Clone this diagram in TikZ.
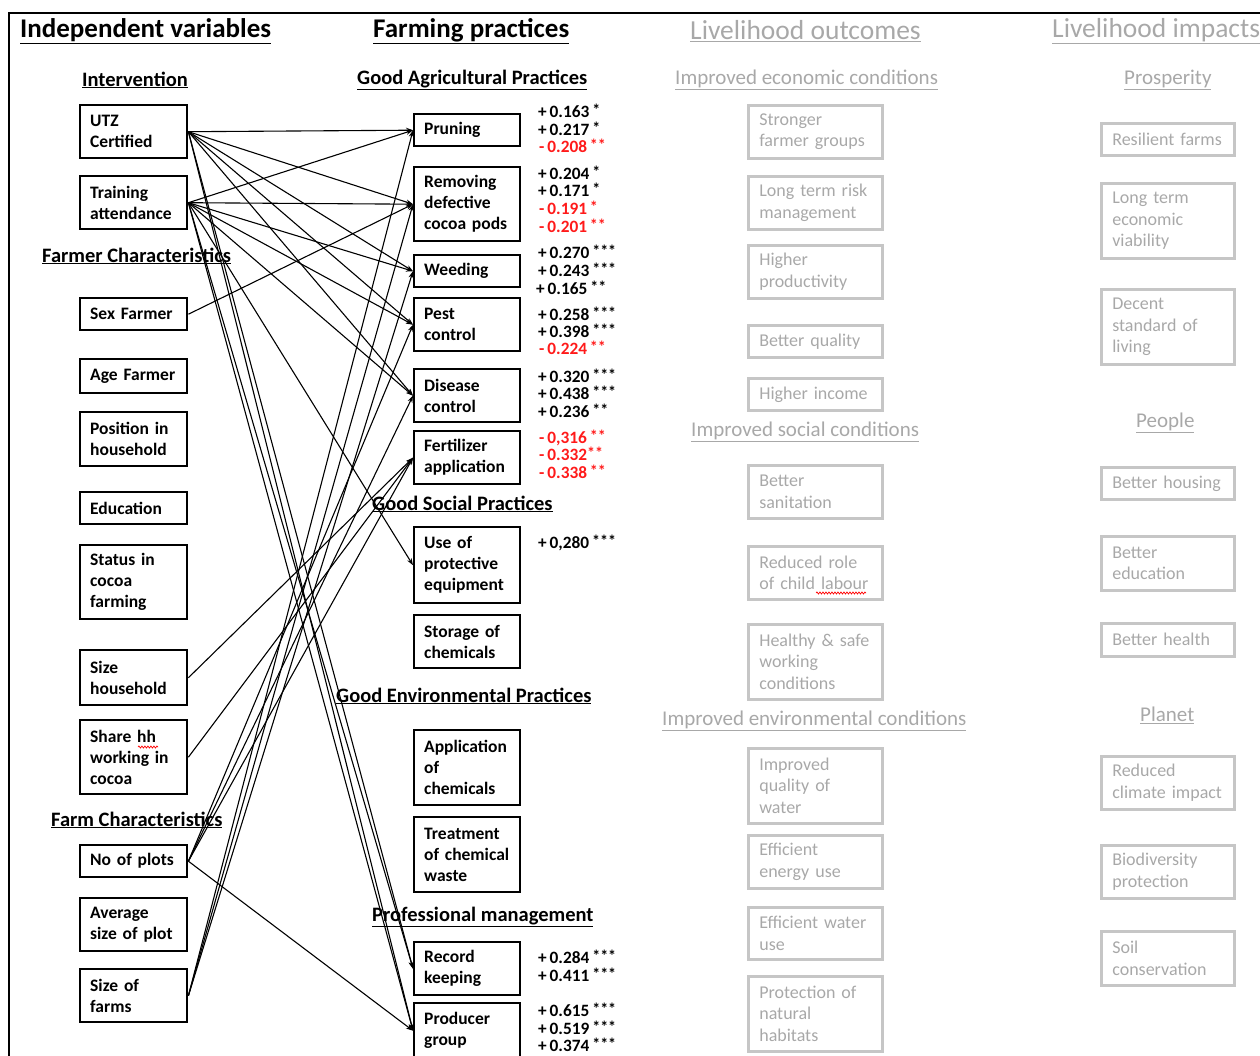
\documentclass[tikz,border=0pt]{standalone}
\usepackage{fontspec}
\setmainfont{Carlito}
\usetikzlibrary{arrows.meta,decorations.pathmorphing}
\definecolor{fade}{HTML}{A8A8A8}
\definecolor{fadeline}{HTML}{C6C6C6}
\definecolor{coefred}{HTML}{FF1A1A}
% significance stars
\newcommand\sig[1]{\,\raisebox{1.5pt}{\fontsize{16}{16}\selectfont #1}}

\begin{document}
\begin{tikzpicture}[x=1pt,y=-1pt,
  bbox/.style={draw=black, line width=2.4pt, inner xsep=10pt, inner ysep=0pt,
    anchor=north west, align=left, font=\fontsize{17.5}{21}\selectfont\bfseries},
  gbox/.style={draw=fadeline, line width=2.6pt, inner xsep=11pt, inner ysep=0pt,
    anchor=north west, align=left, text=fade, font=\fontsize{18}{21.5}\selectfont},
  mainhead/.style={anchor=west, inner sep=0pt, font=\fontsize{27}{30}\selectfont\bfseries},
  subhead/.style={anchor=west, inner sep=0pt, font=\fontsize{20.5}{22}\selectfont\bfseries},
  gmainhead/.style={anchor=west, inner sep=0pt, text=fade, font=\fontsize{27.5}{30}\selectfont},
  gsubhead/.style={anchor=west, inner sep=0pt, text=fade, font=\fontsize{21}{22}\selectfont},
  coef/.style={anchor=west, inner sep=0pt, font=\fontsize{17.3}{17}\selectfont\bfseries},
  neg/.style={coef, text=coefred},
  link/.style={draw=black, line width=1.1pt, -{Stealth[length=7pt,width=5pt]}},
  wavy/.style={draw=red, line width=0.7pt, decorate,
    decoration={snake, amplitude=1pt, segment length=3pt}}
]
\useasboundingbox (0,0) rectangle (1260,1055);

% outer frame (only its top and left sides fall inside the page)
\draw[line width=2pt] (9,1056) -- (9,13) -- (1261,13);

% ---------- column headings ----------
\node[mainhead] (hIndep) at (20,31) {\underline{Independent variables}};
\node[mainhead] (hFarm) at (373,31) {\underline{Farming practices}};
\node[gmainhead] (hOut) at (690,31) {\underline{Livelihood outcomes}};
\node[gmainhead] (hImp) at (1052,31) {\underline{Livelihood impacts}};

% ---------- group headings ----------
\node[subhead] (gInt) at (82,80) {\underline{Intervention}};
\node[subhead] (gFarmer) at (42,256) {\underline{Farmer Characteristics}};
\node[subhead] (gFarmC) at (51,820) {\underline{Farm Characteristics}};
\node[subhead] (gGAP) at (357,80) {\underline{Good Agricultural Practices}};
\node[subhead] (gGSP) at (372,504) {\underline{Good Social Practices}};
\node[subhead] (gGEP) at (336,696) {\underline{Good Environmental Practices}};
\node[subhead] (gPM) at (372,917) {\underline{Professional management}};
\node[gsubhead] (gEco) at (675,80) {\underline{Improved economic conditions}};
\node[gsubhead] (gSoc) at (691,432) {\underline{Improved social conditions}};
\node[gsubhead] (gEnv) at (662,721) {\underline{Improved environmental conditions}};
\node[gsubhead] (gPros) at (1124,80) {\underline{Prosperity}};
\node[gsubhead] (gPeop) at (1136,423) {\underline{People}};
\node[gsubhead] (gPlan) at (1140,715) {\underline{Planet}};

% ---------- independent variables ----------
\node[bbox, text width=87pt, minimum height=53pt] (utz)  at (79,104) {UTZ\\Certified};
\node[bbox, text width=87pt, minimum height=53pt] (trai) at (79,175) {Training\\attendance};
\node[bbox, text width=87pt, minimum height=32pt] (sexf) at (79,297) {Sex Farmer};
\node[bbox, text width=87pt, minimum height=34pt] (agef) at (79,358) {Age Farmer};
\node[bbox, text width=87pt, minimum height=54pt] (posh) at (79,411) {Position in\\household};
\node[bbox, text width=87pt, minimum height=32pt] (educ) at (79,491) {Education};
\node[bbox, text width=87pt, minimum height=74pt] (stat) at (79,544) {Status in\\cocoa\\farming};
\node[bbox, text width=87pt, minimum height=55pt] (sizh) at (79,649) {Size\\household};
\node[bbox, text width=87pt, minimum height=74pt] (shar) at (79,719) {Share hh\\working in\\cocoa};
\node[bbox, text width=87pt, minimum height=32pt] (nopl) at (79,844) {No of plots};
\node[bbox, text width=87pt, minimum height=53pt] (avgp) at (79,897) {Average\\size of plot};
\node[bbox, text width=87pt, minimum height=53pt] (sizf) at (79,968) {Size of\\farms};

% spell-check mark under "hh"
\draw[wavy] (138,747) -- (158,747);

% ---------- farming practices ----------
\node[bbox, text width=86pt, minimum height=32pt] (prun) at (413,113) {Pruning};
\node[bbox, text width=86pt, minimum height=74pt] (remo) at (413,166) {Removing\\defective\\cocoa pods};
\node[bbox, text width=86pt, minimum height=32pt] (weed) at (413,254) {Weeding};
\node[bbox, text width=86pt, minimum height=53pt] (pest) at (413,297) {Pest\\control};
\node[bbox, text width=86pt, minimum height=53pt] (dise) at (413,368) {Disease\\control};
\node[bbox, text width=86pt, minimum height=53pt] (fert) at (413,430) {Fertilizer\\application};
\node[bbox, text width=86pt, minimum height=76pt] (useq) at (413,526) {Use of\\protective\\equipment};
\node[bbox, text width=86pt, minimum height=53pt] (stor) at (413,614) {Storage of\\chemicals};
\node[bbox, text width=86pt, minimum height=75pt] (appl) at (413,729) {Application\\of\\chemicals};
\node[bbox, text width=86pt, minimum height=75pt] (trea) at (413,816) {Treatment\\of chemical\\waste};
\node[bbox, text width=86pt, minimum height=53pt] (reco) at (413,941) {Record\\keeping};
\node[bbox, text width=86pt, minimum height=55pt] (prod) at (413,1002) {Producer\\group};

% ---------- coefficients ----------
\node[coef] (c01) at (538,111) {+\,0.163\sig{*}};
\node[coef] (c02) at (538,129) {+\,0.217\sig{*}};
\node[neg]  (c03) at (539,146) {-\,0.208\sig{**}};
\node[coef] (c04) at (538,173) {+\,0.204\sig{*}};
\node[coef] (c05) at (538,190) {+\,0.171\sig{*}};
\node[neg]  (c06) at (539,208) {-\,0.191\sig{*}};
\node[neg]  (c07) at (539,226) {-\,0.201\sig{**}};
\node[coef] (c08) at (538,252) {+\,0.270\sig{***}};
\node[coef] (c09) at (538,270) {+\,0.243\sig{***}};
\node[coef] (c10) at (536,288) {+\,0.165\sig{**}};
\node[coef] (c11) at (538,314) {+\,0.258\sig{***}};
\node[coef] (c12) at (538,331) {+\,0.398\sig{***}};
\node[neg]  (c13) at (539,348) {-\,0.224\sig{**}};
\node[coef] (c14) at (538,376) {+\,0.320\sig{***}};
\node[coef] (c15) at (538,393) {+\,0.438\sig{***}};
\node[coef] (c16) at (538,411) {+\,0.236\sig{**}};
\node[neg]  (c17) at (539,438) {-\,0,316\sig{**}};
\node[neg]  (c18) at (539,454) {-\,0.332\raisebox{1.5pt}{\fontsize{16}{16}\selectfont **}};
\node[neg]  (c19) at (539,472) {-\,0.338\sig{**}};
\node[coef] (c20) at (538,543) {+\,0,280\sig{***}};
\node[coef] (c21) at (538,957) {+\,0.284\sig{***}};
\node[coef] (c22) at (538,975) {+\,0.411\sig{***}};
\node[coef] (c23) at (538,1010) {+\,0.615\sig{***}};
\node[coef] (c24) at (538,1028) {+\,0.519\sig{***}};
\node[coef] (c25) at (538,1045) {+\,0.374\sig{***}};

% ---------- livelihood outcomes ----------
\node[gbox, text width=112pt, minimum height=53pt] (o1)  at (747,104) {Stronger\\farmer groups};
\node[gbox, text width=112pt, minimum height=53pt] (o2)  at (747,175) {Long term risk\\management};
\node[gbox, text width=112pt, minimum height=53pt] (o3)  at (747,244) {Higher\\productivity};
\node[gbox, text width=112pt, minimum height=32pt] (o4)  at (747,324) {Better quality};
\node[gbox, text width=112pt, minimum height=32pt] (o5)  at (747,377) {Higher income};
\node[gbox, text width=112pt, minimum height=53pt] (o6)  at (747,464) {Better\\sanitation};
\node[gbox, text width=112pt, minimum height=53pt] (o7)  at (747,545) {Reduced role\\of child labour};
\node[gbox, text width=112pt, minimum height=75pt] (o8)  at (747,623) {Healthy \& safe\\working\\conditions};
\node[gbox, text width=112pt, minimum height=75pt] (o9)  at (747,747) {Improved\\quality of\\water};
\node[gbox, text width=112pt, minimum height=53pt] (o10) at (747,834) {Efficient\\energy use};
\node[gbox, text width=112pt, minimum height=52pt] (o11) at (747,906) {Efficient water\\use};
\node[gbox, text width=112pt, minimum height=75pt] (o12) at (747,975) {Protection of\\natural\\habitats};

% spell-check mark under "labour"
\draw[wavy] (816,593) -- (866,593);

% ---------- livelihood impacts ----------
\node[gbox, text width=111pt, minimum height=32pt] (i1) at (1100,122) {Resilient farms};
\node[gbox, text width=111pt, minimum height=75pt] (i2) at (1100,182) {Long term\\economic\\viability};
\node[gbox, text width=111pt, minimum height=75pt] (i3) at (1100,288) {Decent\\standard of\\living};
\node[gbox, text width=111pt, minimum height=32pt] (i4) at (1100,466) {Better housing};
\node[gbox, text width=111pt, minimum height=54pt] (i5) at (1100,535) {Better\\education};
\node[gbox, text width=111pt, minimum height=33pt] (i6) at (1100,622) {Better health};
\node[gbox, text width=111pt, minimum height=53pt] (i7) at (1100,755) {Reduced\\climate impact};
\node[gbox, text width=111pt, minimum height=53pt] (i8) at (1100,844) {Biodiversity\\protection};
\node[gbox, text width=111pt, minimum height=54pt] (i9) at (1100,930) {Soil\\conservation};

% ---------- links from independent variables to practices ----------
\foreach \t in {prun,remo,weed,pest,dise,reco,prod}
  \draw[link] (utz.east) -- (\t.west);
\foreach \t in {prun,remo,weed,pest,dise,useq,reco,prod}
  \draw[link] (trai.east) -- (\t.west);
\draw[link] (sexf.east) -- (remo.west);
\draw[link] (sizh.east) -- (fert.west);
\draw[link] (shar.east) -- (fert.west);
\foreach \t in {pest,dise,fert,prod}
  \draw[link] (nopl.east) -- (\t.west);
\foreach \t in {prun,remo,weed}
  \draw[link] (sizf.east) -- (\t.west);
\end{tikzpicture}
\end{document}
